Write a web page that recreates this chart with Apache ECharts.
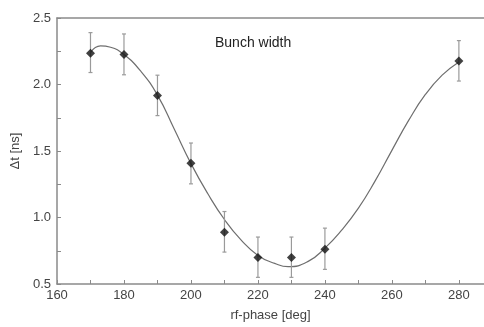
<!DOCTYPE html>
<html>
<head>
<meta charset="utf-8">
<script src="https://cdn.jsdelivr.net/npm/echarts@6/dist/echarts.min.js"></script>
<style>html,body{margin:0;padding:0;background:#fff}#c{width:484px;height:327px}</style>
</head>
<body>
<div id="c"></div>
<script>
// Measured points
var phase = [170, 180, 190, 200, 210, 220, 230, 240, 280];
var width = [2.235, 2.225, 1.918, 1.407, 0.89, 0.70, 0.70, 0.762, 2.176];
var errLow = [2.09, 2.073, 1.766, 1.253, 0.74, 0.55, 0.55, 0.61, 2.026];
var errHigh = [2.39, 2.38, 2.07, 1.56, 1.045, 0.853, 0.853, 0.92, 2.33];
// Fit curve
var fitX = [170, 173, 176, 180, 185, 190, 195, 200, 205, 210, 215, 220, 225, 229, 235, 240, 245, 250, 255, 260, 265, 270, 275, 280];
var fitY = [2.24, 2.29, 2.28, 2.225, 2.10, 1.92, 1.665, 1.405, 1.18, 0.985, 0.83, 0.715, 0.655, 0.63, 0.67, 0.77, 0.905, 1.07, 1.275, 1.505, 1.73, 1.925, 2.07, 2.17];
var xTicks = [160, 180, 200, 220, 240, 260, 280];
var yTicks = [0.5, 1.0, 1.5, 2.0, 2.5];

var chart = echarts.init(document.getElementById('c'));
var axisColor = '#8a8a8a';
var labelColor = '#444';
var font = 'Liberation Sans, Arial, sans-serif';

chart.setOption({
  animation: false,
  backgroundColor: '#fff',
  grid: {left: 57, top: 18, right: 0, bottom: 37},
  graphic: [{
    type: 'text', left: 215, top: 36,
    style: {text: 'Bunch width', fill: '#222', font: '14px ' + font}
  }],
  xAxis: [{
    type: 'value', min: 160, max: 287.5, interval: 20,
    name: 'rf-phase [deg]', nameLocation: 'middle', nameGap: 25,
    nameTextStyle: {color: labelColor, fontSize: 13, fontFamily: font},
    axisLine: {lineStyle: {color: axisColor, width: 1.5}},
    axisTick: {inside: true, length: 4, lineStyle: {color: axisColor}},
    minorTick: {show: true, splitNumber: 2, length: 4, lineStyle: {color: axisColor}},
    splitLine: {show: false},
    axisLabel: {color: labelColor, fontSize: 13, fontFamily: font, margin: 5,
      showMaxLabel: false,
      formatter: function (v) { return xTicks.indexOf(v) >= 0 ? String(v) : ''; }}
  }, {
    type: 'value', position: 'top', min: 160, max: 287.5,
    axisLine: {show: true, lineStyle: {color: axisColor, width: 1.5}},
    axisTick: {show: false}, axisLabel: {show: false}, splitLine: {show: false}
  }],
  yAxis: {
    type: 'value', min: 0.5, max: 2.5, interval: 0.5,
    name: 'Δt [ns]', nameLocation: 'middle', nameGap: 33, nameRotate: 90,
    nameTextStyle: {color: labelColor, fontSize: 13, fontFamily: font},
    axisLine: {show: true, lineStyle: {color: axisColor, width: 1.5}},
    axisTick: {inside: true, length: 4, lineStyle: {color: axisColor}},
    minorTick: {show: true, splitNumber: 2, length: 4, lineStyle: {color: axisColor}},
    splitLine: {show: false},
    axisLabel: {color: labelColor, fontSize: 13, fontFamily: font, margin: 6,
      formatter: function (v) { return yTicks.indexOf(v) >= 0 ? v.toFixed(1) : ''; }}
  },
  series: [{
    type: 'line', smooth: 0.5, showSymbol: false, symbol: 'none',
    data: fitX.map(function (x, i) { return [x, fitY[i]]; }),
    lineStyle: {color: '#6e6e6e', width: 1.2}, z: 2
  }, {
    type: 'custom',
    data: phase.map(function (x, i) { return [x, errLow[i], errHigh[i]]; }),
    renderItem: function (params, api) {
      var lo = api.coord([api.value(0), api.value(1)]);
      var hi = api.coord([api.value(0), api.value(2)]);
      var c = 2;
      var st = {stroke: '#9a9a9a', lineWidth: 1.2};
      return {type: 'group', children: [
        {type: 'line', shape: {x1: lo[0], y1: lo[1], x2: hi[0], y2: hi[1]}, style: st},
        {type: 'line', shape: {x1: lo[0] - c, y1: lo[1], x2: lo[0] + c, y2: lo[1]}, style: st},
        {type: 'line', shape: {x1: hi[0] - c, y1: hi[1], x2: hi[0] + c, y2: hi[1]}, style: st}
      ]};
    },
    z: 3
  }, {
    type: 'scatter', symbol: 'diamond', symbolSize: [9, 9],
    data: phase.map(function (x, i) { return [x, width[i]]; }),
    itemStyle: {color: '#111'}, z: 4
  }]
});
</script>
</body>
</html>
